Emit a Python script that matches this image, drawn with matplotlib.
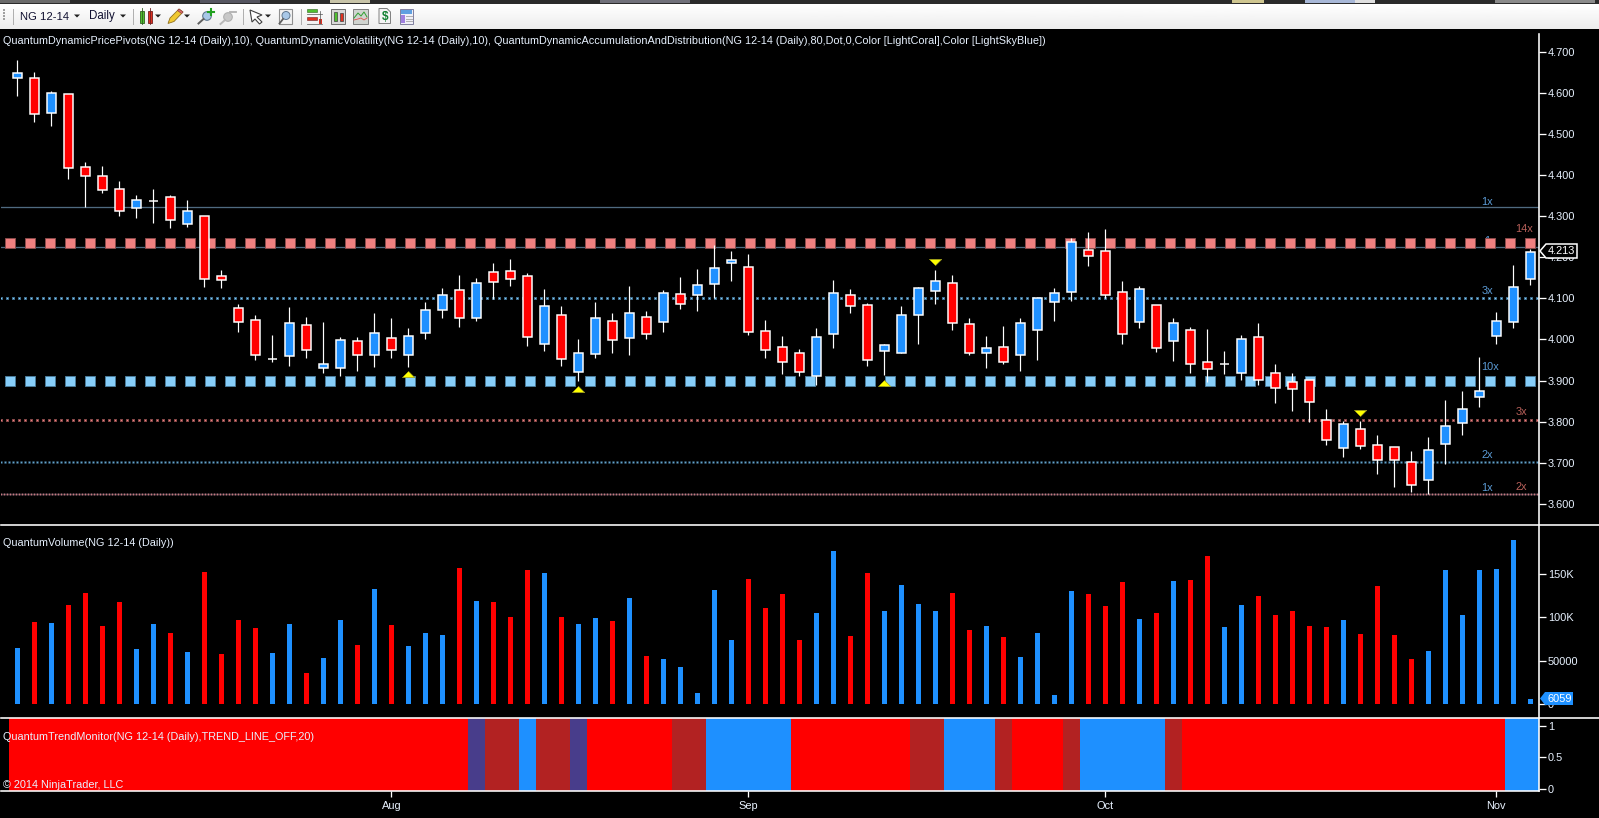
import numpy as np
import matplotlib
matplotlib.use('Agg')
import matplotlib.pyplot as plt
from matplotlib.patches import Rectangle, Polygon, Circle

plt.rcParams['font.family'] = ['Liberation Sans', 'DejaVu Sans']

# candles
opens = [4.637,4.635,4.550,4.596,4.419,4.397,4.365,4.319,4.337,4.347,4.280,4.301,4.154,4.076,4.047,3.953,
         3.959,4.035,3.930,3.930,3.996,3.962,4.003,3.962,4.015,4.071,4.120,4.052,4.164,4.166,4.154,3.988,
         4.059,3.920,3.964,4.044,4.004,4.054,4.043,4.110,4.107,4.136,4.185,4.176,4.020,3.981,3.966,3.912,
         4.014,4.107,4.083,3.973,3.968,4.060,4.119,4.137,4.037,3.968,3.981,3.961,4.024,4.090,4.115,4.217,
         4.214,4.115,4.043,4.083,3.997,4.022,3.944,3.940,3.919,4.005,3.919,3.896,3.901,3.805,3.735,3.783,
         3.744,3.738,3.703,3.657,3.7465,3.796,3.859,4.008,4.042,4.146]
highs = [4.679,4.651,4.605,4.596,4.431,4.422,4.385,4.351,4.365,4.351,4.339,4.301,4.168,4.086,4.060,4.011,
         4.079,4.054,4.043,4.005,4.006,4.064,4.052,4.028,4.090,4.125,4.156,4.149,4.186,4.195,4.161,4.122,
         4.081,4.000,4.090,4.0645,4.129,4.069,4.120,4.151,4.171,4.230,4.215,4.207,4.047,4.009,3.976,4.027,
         4.145,4.123,4.089,3.988,4.081,4.127,4.169,4.157,4.052,4.009,4.033,4.052,4.103,4.125,4.246,4.262,
         4.269,4.142,4.129,4.083,4.051,4.030,4.025,3.971,4.010,4.039,3.940,3.918,3.901,3.830,3.802,3.802,
         3.767,3.738,3.728,3.763,3.852,3.874,3.957,4.067,4.180,4.219]
lows = [4.593,4.530,4.520,4.391,4.322,4.355,4.299,4.296,4.284,4.272,4.274,4.128,4.126,4.019,3.949,3.944,
        3.936,3.956,3.919,3.912,3.924,3.934,3.956,3.934,4.000,4.051,4.031,4.046,4.098,4.129,3.985,3.973,
        3.936,3.900,3.954,3.966,3.961,4.002,4.017,4.073,4.070,4.100,4.141,4.012,3.956,3.917,3.910,3.890,
        3.979,4.065,3.936,3.914,3.968,3.989,4.086,4.023,3.963,3.931,3.940,3.923,3.950,4.045,4.094,4.179,
        4.100,3.990,4.029,3.970,3.948,3.919,3.897,3.916,3.901,3.890,3.846,3.827,3.798,3.744,3.715,3.734,
        3.673,3.642,3.630,3.625,3.698,3.768,3.836,3.990,4.029,4.133]
closes = [4.648,4.548,4.599,4.416,4.397,4.363,4.312,4.339,4.337,4.290,4.312,4.146,4.144,4.042,3.963,3.953,
          4.039,3.974,3.940,3.998,3.962,4.015,3.974,4.008,4.071,4.107,4.052,4.137,4.139,4.148,4.005,4.081,
          3.952,3.966,4.052,3.998,4.064,4.014,4.112,4.085,4.132,4.173,4.193,4.019,3.975,3.946,3.922,4.005,
          4.112,4.082,3.951,3.986,4.059,4.124,4.141,4.039,3.966,3.979,3.944,4.039,4.100,4.112,4.236,4.204,
          4.107,4.014,4.122,3.980,4.041,3.940,3.929,3.940,4.000,3.901,3.883,3.879,3.849,3.755,3.795,3.742,
          3.706,3.706,3.645,3.732,3.790,3.830,3.874,4.046,4.1285,4.213]

# volume in thousands
volume = [64.6,94.6,93.5,114.2,128,90,117.7,63.5,92.3,81.9,60,152.3,57.7,96.9,87.7,58.8,92.3,35.8,53,96.9,
          68,132.7,91.2,66.9,81.9,79.6,156.9,118.8,117.7,100.4,154.6,151.2,100.4,92.3,99.2,95.8,122.3,55.4,
          51.9,42.7,12.7,131.5,73.8,144.2,110.8,126.9,73.8,105,176.5,78.5,151.2,107.3,137.3,115.4,107.3,128,
          85.4,90,77.3,54.2,81.9,10.4,130.4,126.9,113,140.8,98,105,141.9,143,170.8,88.8,114.2,124.6,102.7,
          107.3,90,88.8,96.9,80.8,136.2,79.6,51.9,61.2,154.6,102.7,154.6,155.8,189.2,6.059]
volume_colors = ['b','r','b','r','r','r','r','b','b','r','b','r','r','r','r','b','b','r','b','b','r','b','r',
                 'b','b','b','r','b','r','r','r','b','r','b','b','r','b','r','b','b','b','b','b','r','r','r',
                 'r','b','b','r','r','b','b','b','b','r','r','b','r','b','b','b','b','r','r','r','b','r','b',
                 'r','r','b','b','r','r','r','r','r','b','r','r','r','r','b','b','b','b','b','b','b']

trend_runs = [('red',27),('purple',1),('brick',2),('blue',1),('brick',2),('purple',1),('red',5),('brick',2),
              ('blue',5),('red',7),('brick',2),('blue',3),('brick',1),('red',3),('brick',1),('blue',5),
              ('brick',1),('red',19),('blue',2)]

price_ticks = [3.6,3.7,3.8,3.9,4.0,4.1,4.2,4.3,4.4,4.5,4.6,4.7]
volume_ticks = [0,50,100,150]
volume_labels = ['0','50000','100K','150K']
trend_ticks = [0,0.5,1]
trend_labels = ['0','0.5','1']
month_bars = [22,43,64,87]
month_labels = ['Aug','Sep','Oct','Nov']

thin_levels = [4.322,4.226]
level_labels = [('1x',4.3345,'blue'),('14x',4.269,'red'),('1',4.240,'blue'),('3x',4.118,'blue'),('10x',3.933,'blue'),
                ('3x',3.824,'red'),('2x',3.719,'blue'),('1x',3.639,'blue'),('2x',3.641,'red')]
up_arrows = [(23,3.915),(33,3.880),(51,3.894)]
down_arrows = [(54,4.189),(79,3.822)]

W,H = 1599,818
BLUE='#1e90ff'; RED='#ff0000'; TXT='#e8f2ff'
px = 0.72  # points per pixel at dpi 100
LABEL_SIZE = 7.9

fig = plt.figure(figsize=(W/100,H/100), dpi=100, facecolor='black')

def panel(top,bottom,left=1,right=1539):
    a = fig.add_axes([left/W,1-bottom/H,(right-left)/W,(bottom-top)/H],facecolor='black')
    for s in a.spines.values():
        s.set_visible(False)
    a.set_xlim((left-17.3)/17,(right-17.3)/17)
    a.yaxis.tick_right()
    a.tick_params(axis='y',colors='white',labelcolor=TXT,length=7*px,width=1*px*1.3,pad=1.2,labelsize=LABEL_SIZE)
    a.set_xticks([])
    return a

ax = panel(29,525)
ax.set_ylim(3.5487,4.755)
ax.set_yticks(price_ticks)
ax.set_yticklabels(['%.3f'%t for t in price_ticks])

x = np.arange(len(closes))
xl = ax.get_xlim()

# pivots and levels
for lv in thin_levels:
    ax.axhline(lv,color='#4f6a80',lw=1.3*px,zorder=1)
def dots(level,spacing,size,fc,ec,start=-0.93,edge=1.0):
    xs = np.arange(start,xl[1],spacing/17)
    ax.plot(xs,[level]*len(xs),ls='none',marker='s',ms=size*px,mfc=fc,mec=ec,mew=edge*px,zorder=2)
dots(4.234,20,10,'#f08080','#8a4a4a',start=-0.45)
dots(3.898,20,10,'#87cefa','#4a7a98',start=-0.45)
dots(4.100,6,2.6,'#87cefa','#3f6f90')
dots(3.805,6,2.6,'#f08080','#8a4a4a')
dots(3.703,4,1.6,'#87cefa','#2f5570',edge=0.8)
dots(3.625,3,1.4,'#f08080','#8a6a7a',edge=0.6)

for t,lv,c in level_labels:
    xp = {'red':(1524 if t=='14x' else 1521),'blue':(1490 if t=='10x' else 1487)}[c]
    ax.text((xp-17.3)/17,lv,t,color='#b8605a' if c=='red' else '#5b9bd5',ha='center',va='center',fontsize=LABEL_SIZE,zorder=1.5)

# candles
ax.vlines(x,lows,highs,color='white',lw=1.2*px,zorder=3)
body_col = [BLUE if c>o else RED for o,c in zip(opens,closes)]
ax.bar(x,np.array(closes)-np.array(opens),bottom=opens,width=9.5/17,color=body_col,edgecolor='white',linewidth=1.5*px,zorder=4)

tri_up = [(-1,-0.5),(1,-0.5),(0,0.5)]
tri_dn = [(-1,0.5),(1,0.5),(0,-0.5)]
for i,p in up_arrows:
    ax.plot(i,p,ls='none',marker=tri_up,ms=12.5*px,mfc='#ffff00',mec='#9a9a20',mew=0.5,zorder=5)
for i,p in down_arrows:
    ax.plot(i,p,ls='none',marker=tri_dn,ms=12.5*px,mfc='#ffff00',mec='#9a9a20',mew=0.5,zorder=5)

# volume
ax2 = panel(525,718)
ax2.set_ylim(-16.2,206.5)
ax2.set_yticks(volume_ticks)
ax2.set_yticklabels(volume_labels)
ax2.bar(x,volume,width=5/17,color=[BLUE if c=='b' else RED for c in volume_colors])

# trend monitor
ax3 = panel(718,791)
ax3.set_ylim(-0.036,1.12)
ax3.set_yticks(trend_ticks)
ax3.set_yticklabels(trend_labels)
trend_map = {'red':RED,'purple':'#483d8b','brick':'#b22222','blue':BLUE}
pos = 0
for name,n in trend_runs:
    ax3.bar(np.arange(pos,pos+n),1.156,bottom=-0.036,width=1.0,color=trend_map[name],linewidth=0)
    pos += n
ax3.set_xticks(month_bars)
ax3.set_xticklabels(month_labels)
ax3.tick_params(axis='x',colors='white',labelcolor=TXT,length=6*px,width=1*px*1.3,pad=3,labelsize=LABEL_SIZE)

# overlay in pixel coords for window chrome
ov = fig.add_axes([0,0,1,1],facecolor='none',zorder=10)
ov.set_axis_off()
grad = np.linspace(1,0.925,30).reshape(-1,1)
ov.imshow(grad,extent=[0,W,29,4],cmap='gray',vmin=0,vmax=1,aspect='auto')
ov.set_xlim(0,W); ov.set_ylim(H,0)

ov.add_patch(Rectangle((0,0),W,4,fc='#2b2b2b',ec='none'))
for x0,w,c in [(0,70,'#6a6a6a'),(200,60,'#555560'),(330,40,'#c8c4a8'),(600,90,'#70707a'),(1232,32,'#cfc690'),(1305,50,'#a8b8d8'),
               (1355,20,'#e0e0e0'),(1495,100,'#8a8a8a')]:
    ov.add_patch(Rectangle((x0,0),w,3,fc=c,ec='none'))

# axis and panel lines
ov.plot([1539,1539],[34,791],color='white',lw=1.6*px)
ov.plot([1,W],[525,525],color='white',lw=1.6*px)
ov.plot([1,W],[718,718],color='white',lw=1.6*px)
ov.plot([1,1539],[791,791],color='white',lw=1.6*px)

# toolbar
for yy in range(9,21,3):
    ov.add_patch(Rectangle((3,yy),1.6,1.6,fc='#a0a0a0',ec='none'))
for sx in [12.5,133,243,301]:
    ov.plot([sx,sx],[9,24],color='#b0b0b0',lw=1*px)
ov.text(20,16.5,'NG 12-14',color='#101030',fontsize=8.1,va='center')
ov.text(89,16.5,'Daily',color='#101030',fontsize=8.3,va='center')
for ax_ in [77,123,158,187,268]:
    ov.add_patch(Polygon([(ax_-3,14.5),(ax_+3,14.5),(ax_,17.5)],fc='#202020',ec='none'))
# chart style icon
ov.add_patch(Rectangle((140,10.5),4,12,fc='#50c030',ec='#306020',lw=0.6))
ov.add_patch(Rectangle((147.5,10.5),4,12,fc='#e03020',ec='#702020',lw=0.6))
ov.plot([142,142],[8,24],color='#306020',lw=0.6,zorder=1)
ov.plot([149.5,149.5],[8,24],color='#702020',lw=0.6,zorder=1)
# pencil
ov.add_patch(Polygon([(168,23.5),(170,18),(179,9),(183,12),(174,21.5)],fc='#f0c830',ec='#907020',lw=0.6))
ov.add_patch(Polygon([(179,9),(183,12),(181.5,13.5),(177.5,10.5)],fc='#e07070',ec='#904040',lw=0.5))
# zoom in and out
ov.add_patch(Circle((207,16),4.3,fc='#a8c8e8',ec='#607890',lw=0.8))
ov.plot([198.5,203.5],[23.5,19],color='#606060',lw=1.4)
ov.plot([208,214],[12,12],color='#20a020',lw=1.5)
ov.plot([211,211],[9,15],color='#20a020',lw=1.5)
ov.add_patch(Circle((228,17),4.3,fc='#c8c8c8',ec='#b0b0b0',lw=0.8))
ov.plot([220.5,225],[24,20],color='#b8b8b8',lw=1.4)
ov.plot([230,236],[12,12],color='#b0b0b0',lw=1.3)
# cursor
ov.add_patch(Polygon([(250,10),(262,15),(257,17),(262,22),(259.5,24),(255,19),(252,22)],fc='white',ec='#404040',lw=0.8))
# zoom box
ov.add_patch(Rectangle((279,9),13,14.5,fc='#f4f4f4',ec='#909090',lw=0.8))
ov.add_patch(Circle((286,15.5),4,fc='#a8c8e8',ec='#607890',lw=0.7))
ov.plot([279.5,283],[23.5,19],color='#606060',lw=1.3)
# strategy / layout icons
ov.add_patch(Rectangle((307,8.5),10,3,fc='#50c030',ec='#306020',lw=0.4))
ov.add_patch(Rectangle((307,16.5),10,3,fc='#e03020',ec='#702020',lw=0.4))
ov.plot([307,322],[14,14],color='#707070',lw=0.6)
ov.plot([307,322],[23.5,23.5],color='#707070',lw=0.6)
ov.add_patch(Rectangle((319,19),3,5,fc='#e03020',ec='none'))
ov.plot([319.5,319.5],[11,23],color='#505050',lw=0.5)
ov.add_patch(Rectangle((331,9),14,15,fc='#d8d8d8',ec='#707070',lw=0.7))
ov.add_patch(Rectangle((334,12),3,9,fc='#50c030',ec='#404040',lw=0.5))
ov.add_patch(Rectangle((340,13),3,8,fc='#e03020',ec='#404040',lw=0.5))
ov.add_patch(Rectangle((353,9),15,15,fc='#d0d4d0',ec='#808080',lw=0.7))
ov.plot([354,358,361,364,367],[18,13,16,12,17],color='#30a030',lw=0.7)
ov.plot([354,358,361,364,367],[20,19,18,20,18],color='#e05050',lw=0.6)
ov.add_patch(Polygon([(379,8.5),(387,8.5),(390.5,12),(390.5,23.5),(379,23.5)],fc='#f4f4f4',ec='#808080',lw=0.7))
ov.text(384.7,16.5,'$',color='#108030',fontsize=8.5,fontweight='bold',ha='center',va='center',parse_math=False)
ov.add_patch(Rectangle((400,9),13,15,fc='#f0f0f8',ec='#8080a0',lw=0.7))
ov.add_patch(Rectangle((401,10),11,3.5,fc='#60a0e0',ec='none'))
ov.add_patch(Rectangle((401,15),3.5,8,fc='#a080e0',ec='none'))
for yy in [16,18.5,21]:
    ov.plot([405.5,412],[yy,yy],color='#b0b0b0',lw=0.7)

# last value tags, they hide the tick label under them
ov.add_patch(Polygon([(1540,251),(1546,244),(1577,244),(1577,258),(1546,258)],fc='black',ec='white',lw=1.1))
ov.text(1548,251.3,'4.213',color='white',fontsize=LABEL_SIZE,va='center',ha='left')
ov.add_patch(Polygon([(1540,698.5),(1545,692),(1573,692),(1573,705),(1545,705)],fc=BLUE,ec='none'))
ov.text(1547,698.7,'6059',color='white',fontsize=LABEL_SIZE,va='center',ha='left')

# indicator captions
CAP = 7.85
ov.text(3,41,'QuantumDynamicPricePivots(NG 12-14 (Daily),10), QuantumDynamicVolatility(NG 12-14 (Daily),10), '
             'QuantumDynamicAccumulationAndDistribution(NG 12-14 (Daily),80,Dot,0,Color [LightCoral],Color [LightSkyBlue])',
        color=TXT,fontsize=CAP,va='center')
ov.text(3,543.5,'QuantumVolume(NG 12-14 (Daily))',color=TXT,fontsize=CAP,va='center')
ov.text(3,736.5,'QuantumTrendMonitor(NG 12-14 (Daily),TREND_LINE_OFF,20)',color=TXT,fontsize=CAP,va='center')
ov.text(3,785.5,'© 2014 NinjaTrader, LLC',color=TXT,fontsize=CAP,va='center')

fig.savefig('out.png',dpi=100,facecolor='black')
